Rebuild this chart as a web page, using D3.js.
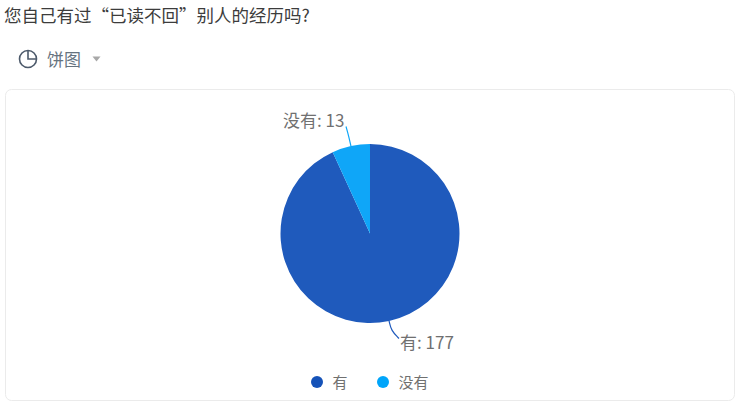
<!DOCTYPE html>
<html>
<head>
<meta charset="utf-8">
<script src="https://cdn.jsdelivr.net/npm/d3@7"></script>
<style>
html, body { margin: 0; padding: 0; background: #fff; overflow: hidden; }
text { font-family: "Noto Sans CJK SC", "Noto Sans", sans-serif; }
</style>
</head>
<body>
<div id="chart"></div>
<script>
const title = "您自己有过“已读不回”别人的经历吗?"
const chartType = "饼图"
const categories = ["有", "没有"]
const values = [177, 13]
const sliceColors = ["#1f5abc", "#0fa6f8"]
const legendColors = ["#1552b8", "#00a5fa"]

const width = 741
const height = 406
const cx = 370
const cy = 233.5
const radius = 89.5

let svg = d3.select("#chart").append("svg")
    .attr("width", width)
    .attr("height", height)
    .style("display", "block")

// heading
svg.append("text")
    .attr("x", 4)
    .attr("y", 22)
    .attr("font-size", 17.5)
    .attr("fill", "#3c3c3c")
    .text(title)

// chart type switch
let icon = svg.append("g").attr("transform", "translate(28,59)")
    .attr("fill", "none").attr("stroke", "#4d5a6b").attr("stroke-width", 1.6)
icon.append("circle").attr("r", 8.5)
icon.append("path").attr("d", "M0,-8.5V0H8.5")
svg.append("text")
    .attr("x", 47)
    .attr("y", 66)
    .attr("font-size", 17)
    .attr("fill", "#66737f")
    .text(chartType)
svg.append("path")
    .attr("d", "M92.5,56.5h8l-4,5z")
    .attr("fill", "#a8a8a8")

// card
svg.append("rect")
    .attr("x", 5.5)
    .attr("y", 89.5)
    .attr("width", 729)
    .attr("height", 311)
    .attr("rx", 6)
    .attr("fill", "#fff")
    .attr("stroke", "#ebebeb")

const pie = d3.pie().sort(null).value(d => d)
const arcs = pie(values)
const arc = d3.arc().innerRadius(0).outerRadius(radius)
const ringAt = r => d3.arc().innerRadius(r).outerRadius(r)

let group = svg.append("g").attr("transform", `translate(${cx},${cy})`)
group.selectAll("path.slice").data(arcs).join("path")
    .attr("class", "slice")
    .attr("d", arc)
    .attr("fill", (d, i) => sliceColors[i])

// leader lines leave the middle of each slice
const leaderEnds = [[29, 105], [-24, -107]]
const curve = d3.line().curve(d3.curveBundle.beta(1))
group.selectAll("path.leader").data(arcs).join("path")
    .attr("class", "leader")
    .attr("fill", "none")
    .attr("stroke", (d, i) => sliceColors[i])
    .attr("stroke-width", 1.2)
    .attr("d", (d, i) => {
        const start = ringAt(radius)
        const mid = ringAt(radius + 10)
        return curve([start.centroid(d), mid.centroid(d), leaderEnds[i]])
    })

const labelPos = [[400, 349], [283, 127]]
svg.selectAll("text.label").data(arcs).join("text")
    .attr("class", "label")
    .attr("x", (d, i) => labelPos[i][0])
    .attr("y", (d, i) => labelPos[i][1])
    .attr("font-size", 17)
    .attr("fill", "#707070")
    .text((d, i) => `${categories[i]}: ${values[i]}`)

// legend
const legendX = [317, 383]
let legend = svg.selectAll("g.legend").data(categories).join("g")
    .attr("class", "legend")
    .attr("transform", (d, i) => `translate(${legendX[i]},382)`)
legend.append("circle")
    .attr("r", 6)
    .attr("fill", (d, i) => legendColors[i])
legend.append("text")
    .attr("x", 15.5)
    .attr("y", 5.5)
    .attr("font-size", 15)
    .attr("fill", "#707070")
    .text(d => d)
</script>
</body>
</html>
